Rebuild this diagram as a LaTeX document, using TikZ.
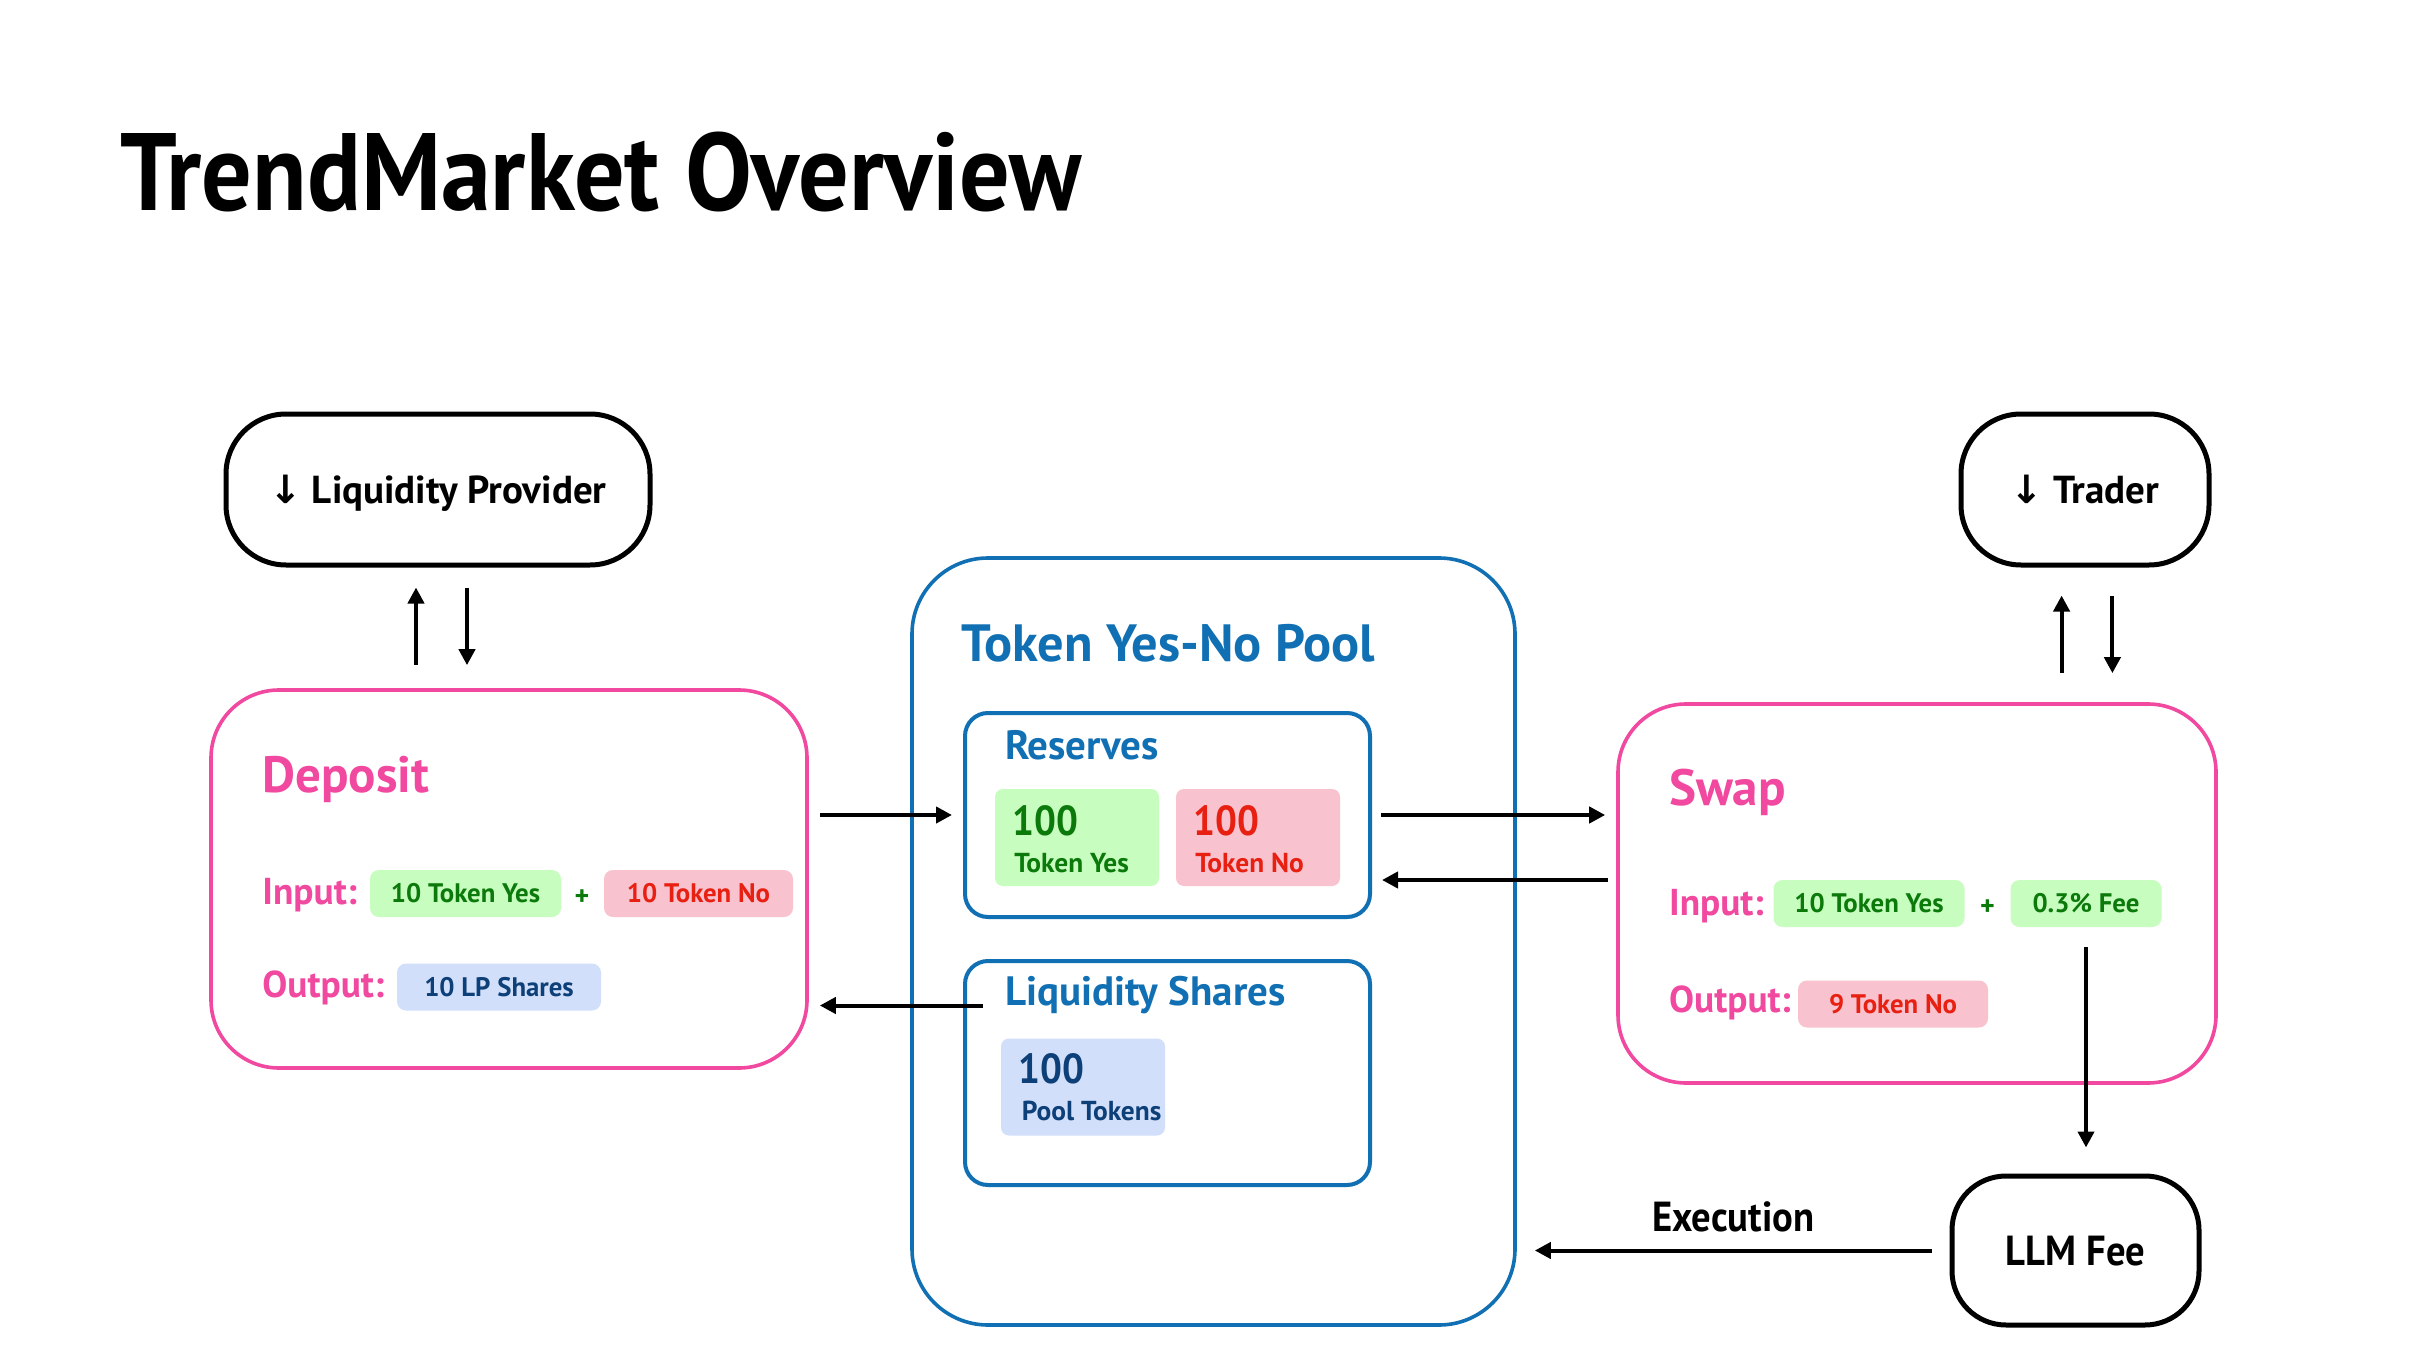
\documentclass[tikz,border=0pt]{standalone}
\usepackage{fontspec}
\setmainfont{PT Sans}
\newfontfamily\titlefont{PT Sans}[FakeStretch=0.91]
\newfontfamily\narrowfont{PT Sans}[FakeStretch=0.92]
\newfontfamily\arrowfont{DejaVu Sans}
\usetikzlibrary{arrows.meta}
\definecolor{pinkc}{HTML}{F0499F}
\definecolor{bluec}{HTML}{1170B3}
\definecolor{greenfill}{HTML}{C8FDC0}
\definecolor{greentext}{HTML}{0B7A0B}
\definecolor{redfill}{HTML}{F8C3CF}
\definecolor{redtext}{HTML}{E82012}
\definecolor{bluefill}{HTML}{D2DFFA}
\definecolor{bluetext}{HTML}{0D3F78}
\newcommand{\fs}[1]{\fontsize{#1}{#1}\selectfont}
\begin{document}
\begin{tikzpicture}[x=0.5pt,y=-0.5pt,
  actor/.style={draw=black, line width=2.5pt, rounded corners=30pt, font=\bfseries\fs{19.5}, inner sep=0pt, text depth=0pt},
  pinkbox/.style={draw=pinkc, line width=1.8pt, rounded corners=34pt, inner sep=0pt},
  bluebox/.style={draw=bluec, line width=1.8pt, inner sep=0pt},
  chip/.style={rounded corners=4.5pt, inner sep=0pt, minimum height=23.5pt, font=\bfseries\fs{13.4}},
  gchip/.style={chip, fill=greenfill, text=greentext},
  rchip/.style={chip, fill=redfill, text=redtext},
  bchip/.style={chip, fill=bluefill, text=bluetext},
  bigchip/.style={rounded corners=4pt, inner sep=0pt, minimum width=82pt, minimum height=48.5pt},
  head/.style={anchor=base west, inner sep=0pt, text=pinkc, font=\bfseries\fs{25.5}},
  lbl/.style={anchor=base west, inner sep=0pt, text=pinkc, font=\bfseries\fs{18.7}},
  btitle/.style={anchor=base west, inner sep=0pt, text=bluec, font=\bfseries\fs{20.5}},
  numtxt/.style={anchor=base west, inner sep=0pt, font=\narrowfont\bfseries\fs{21}},
  subtxt/.style={anchor=base west, inner sep=0pt, font=\bfseries\fs{13.7}},
  plus/.style={inner sep=0pt, text=greentext, font=\bfseries\fs{14}},
  arr/.style={-{Triangle[length=8pt,width=8pt]}, line width=2pt}
]
\useasboundingbox (0,0) rectangle (2416,1364);
\fill[white] (0,0) rectangle (2416,1364);

% title
\node[anchor=base west, inner sep=0pt, font=\titlefont\bfseries\fs{55}] (title) at (120,211) {TrendMarket Overview};

% actors
\node[actor, minimum width=212pt, minimum height=75.5pt] (lp) at (438,489.5) {{\arrowfont\bfseries ↓}~Liquidity Provider};
\node[actor, minimum width=124pt, minimum height=75.5pt] (trader) at (2085,489.5) {{\arrowfont\bfseries ↓}~Trader};
\node[actor, rounded corners=27pt, minimum width=123.5pt, minimum height=74.5pt, font=\narrowfont\bfseries\fs{21}] (llm) at (2075.5,1250.5) {LLM Fee};

% deposit
\node[pinkbox, minimum width=298pt, minimum height=189pt] (dep) at (509,879) {};
\node[head] (deptitle) at (262,792) {Deposit};
\node[lbl] (depin) at (262,904.5) {Input:};
\node[lbl] (depout) at (262,997.5) {Output:};
\node[gchip, minimum width=95.5pt] (depyes) at (465.5,893.5) {10 Token Yes};
\node[plus] (depplus) at (582,898) {+};
\node[rchip, minimum width=94.5pt] (depno) at (698.5,893.5) {10 Token No};
\node[bchip, minimum width=102pt] (deplp) at (499,987) {10 LP Shares};

% pool
\node[bluebox, rounded corners=38pt, minimum width=301.5pt, minimum height=383.5pt] (pool) at (1213.5,941.5) {};
\node[anchor=base west, inner sep=0pt, text=bluec, font=\bfseries\fs{26.2}] (pooltitle) at (961,661) {Token Yes-No Pool};
\node[bluebox, line width=2pt, rounded corners=11.5pt, minimum width=202.5pt, minimum height=102pt] (res) at (1167.5,815) {};
\node[btitle] (restitle) at (1004.6,759.5) {Reserves};
\node[bigchip, fill=greenfill] (resyes) at (1077,837.5) {};
\node[numtxt, text=greentext] (resyesn) at (1012,835) {100};
\node[subtxt, text=greentext] (resyest) at (1014,872) {Token Yes};
\node[bigchip, fill=redfill] (resno) at (1258,837.5) {};
\node[numtxt, text=redtext] (resnon) at (1193,835) {100};
\node[subtxt, text=redtext] (resnot) at (1195,872) {Token No};
\node[bluebox, line width=2pt, rounded corners=11.5pt, minimum width=202.5pt, minimum height=112pt] (ls) at (1167.5,1073) {};
\node[btitle] (lstitle) at (1004.6,1005.5) {Liquidity Shares};
\node[bigchip, fill=bluefill] (lschip) at (1083,1087) {};
\node[numtxt, text=bluetext] (lsn) at (1018,1083) {100};
\node[subtxt, text=bluetext] (lst) at (1021.5,1120) {Pool Tokens};

% swap
\node[pinkbox, minimum width=299pt, minimum height=189.5pt] (swap) at (1917,893.5) {};
\node[head] (swaptitle) at (1668.7,805) {Swap};
\node[lbl] (swapin) at (1668.7,915.5) {Input:};
\node[lbl] (swapout) at (1668.7,1012.5) {Output:};
\node[gchip, minimum width=95.5pt] (swapyes) at (1869,903.5) {10 Token Yes};
\node[plus] (swapplus) at (1987.6,908) {+};
\node[gchip, minimum width=75.5pt] (swapfee) at (2086,903.5) {0.3\% Fee};
\node[rchip, minimum width=95pt] (swapno) at (1893,1004) {9 Token No};

% connectors
\draw[arr, shorten <=11.5pt, shorten >=10pt] ([xshift=-11pt]dep.north -| lp.south) -- ([xshift=-11pt]lp.south);
\draw[arr, shorten <=10pt, shorten >=11.5pt] ([xshift=14.5pt]lp.south) -- ([xshift=14.5pt]dep.north -| lp.south);
\draw[arr, shorten <=14.5pt, shorten >=14pt] ([xshift=-11.7pt]swap.north -| trader.south) -- ([xshift=-11.7pt]trader.south);
\draw[arr, shorten <=14pt, shorten >=14.5pt] ([xshift=13.7pt]trader.south) -- ([xshift=13.7pt]swap.north -| trader.south);
\draw[arr, shorten <=5.5pt, shorten >=5.5pt] (dep.east |- res.west) -- (res.west);
\draw[arr, shorten <=10.8pt, shorten >=5.5pt] (lstitle.base west) -- (lstitle.base west -| dep.east);
\draw[arr, shorten <=4.5pt, shorten >=5.5pt] (res.east) -- (res.east -| swap.west);
\draw[arr, shorten <=4pt, shorten >=5pt] ([yshift=-32.5pt]res.east -| swap.west) -- ([yshift=-32.5pt]res.east);
\draw[arr, shorten <=10pt, shorten >=13pt] (swapfee.south) -- (swapfee.south |- llm.north);
\draw[arr, shorten <=9pt, shorten >=9pt] (llm.west) -- (llm.west -| pool.east)
  node[midway, above=8pt, inner sep=0pt, font=\narrowfont\bfseries\fs{21}] (exec) {Execution};
\end{tikzpicture}
\end{document}
